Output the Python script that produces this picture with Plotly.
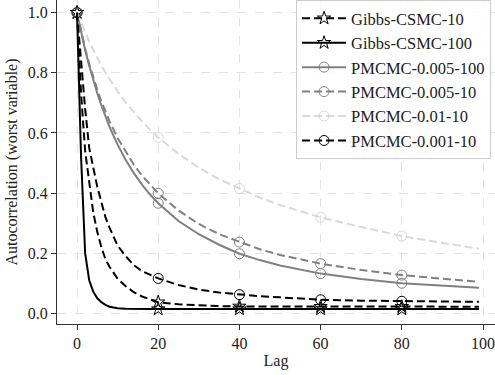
import plotly.graph_objects as go

# ---- data ----
lags = [0, 1, 2, 3, 4, 5, 6, 7, 8, 10, 12, 14, 16, 18, 20, 25, 30, 35, 40, 45, 50, 60, 70, 80, 90, 99]

gibbs_csmc_10 = [1.0, 0.73, 0.54, 0.43, 0.335, 0.27, 0.22, 0.18, 0.155, 0.115, 0.09, 0.07, 0.056, 0.046, 0.037,
                 0.030, 0.026, 0.024, 0.023, 0.023, 0.022, 0.022, 0.022, 0.022, 0.022, 0.022]
gibbs_csmc_100 = [1.0, 0.52, 0.20, 0.11, 0.072, 0.05, 0.037, 0.028, 0.022, 0.017, 0.015, 0.014, 0.014, 0.014, 0.014,
                  0.014, 0.014, 0.014, 0.014, 0.014, 0.014, 0.014, 0.014, 0.014, 0.014, 0.014]
pmcmc_005_100 = [1.0, 0.935, 0.876, 0.823, 0.775, 0.731, 0.691, 0.654, 0.620, 0.561, 0.510, 0.466, 0.428, 0.395, 0.366,
                 0.307, 0.263, 0.228, 0.198, 0.177, 0.159, 0.132, 0.114, 0.100, 0.091, 0.085]
pmcmc_005_10 = [1.0, 0.937, 0.881, 0.830, 0.784, 0.743, 0.705, 0.671, 0.639, 0.583, 0.536, 0.494, 0.458, 0.427, 0.399,
                0.342, 0.297, 0.263, 0.237, 0.213, 0.194, 0.165, 0.144, 0.127, 0.115, 0.105]
pmcmc_01_10 = [1.0, 0.966, 0.934, 0.904, 0.876, 0.849, 0.824, 0.801, 0.779, 0.738, 0.701, 0.668, 0.638, 0.610, 0.585,
               0.530, 0.484, 0.446, 0.415, 0.385, 0.360, 0.319, 0.287, 0.257, 0.234, 0.215]
pmcmc_001_10 = [1.0, 0.84, 0.68, 0.55, 0.48, 0.42, 0.37, 0.32, 0.285, 0.225, 0.19, 0.16, 0.14, 0.127, 0.116,
                0.094, 0.079, 0.069, 0.062, 0.057, 0.053, 0.045, 0.042, 0.040, 0.039, 0.038]

marker_lags = [0, 20, 40, 60, 80]

series = [
    ("Gibbs-CSMC-10", gibbs_csmc_10, "#000000", "8px,4px", "star-open", 10),
    ("Gibbs-CSMC-100", gibbs_csmc_100, "#000000", "solid", "star-open", 10),
    ("PMCMC-0.005-100", pmcmc_005_100, "#808080", "solid", "circle-open", 10),
    ("PMCMC-0.005-10", pmcmc_005_10, "#808080", "8px,4px", "circle-open", 10),
    ("PMCMC-0.01-10", pmcmc_01_10, "#d9d9d9", "8px,4px", "circle-open", 10),
    ("PMCMC-0.001-10", pmcmc_001_10, "#000000", "8px,4px", "circle-open", 10),
]

FONT = "Liberation Serif"
fig = go.Figure()

for name, vals, col, dash, sym, ms in series:
    fig.add_trace(go.Scatter(x=lags, y=vals, mode="lines", showlegend=False,
                             line=dict(color=col, width=2, dash=dash), hoverinfo="skip"))
    mx = [l for l in lags if l in marker_lags]
    my = [v for l, v in zip(lags, vals) if l in marker_lags]
    fig.add_trace(go.Scatter(x=mx, y=my, mode="markers", showlegend=False,
                             marker=dict(symbol=sym, size=ms, color=col, line=dict(width=1, color=col))))

for name, vals, col, dash, sym, ms in series:
    fig.add_trace(go.Scatter(x=[None], y=[None], mode="lines+markers", name=name,
                             line=dict(color=col, width=2, dash=dash),
                             marker=dict(symbol=sym, size=ms, color=col, line=dict(width=1, color=col))))

axis_common = dict(
    showline=True, linecolor="#333333", linewidth=1.2, automargin=False,
    ticks="outside", ticklen=5, tickcolor="#333333", tickwidth=1,
    showgrid=True, gridcolor="#e3e3e3", griddash="dash", gridwidth=1,
    zeroline=False, ticklabeloverflow="allow",
    tickfont=dict(family=FONT, size=16, color="#222222"),
)

fig.update_layout(
    width=495, height=375,
    margin=dict(l=57, r=0, t=0, b=51, autoexpand=False),
    plot_bgcolor="white", paper_bgcolor="white",
    font=dict(family=FONT, size=16, color="#222222"),
    xaxis=dict(range=[-4.93, 102.95], tickvals=[0, 20, 40, 60, 80, 100],
               title=dict(text="Lag", font=dict(family=FONT, size=16), standoff=3), **axis_common),
    yaxis=dict(range=[-0.0356, 1.042], tickvals=[0.0, 0.2, 0.4, 0.6, 0.8, 1.0], tickformat=".1f",
               title=dict(text="Autocorrelation (worst variable)", font=dict(family=FONT, size=16), standoff=6),
               **axis_common),
    legend=dict(x=0.991, y=1.0, xanchor="right", yanchor="top", itemwidth=44,
                bgcolor="rgba(255,255,255,0.85)", bordercolor="#cccccc", borderwidth=1,
                font=dict(family=FONT, size=16.5, color="#222222"), traceorder="normal"),
)

fig.write_html("out.html", config={"displayModeBar": False},
               post_script="document.body.style.margin='0';")
